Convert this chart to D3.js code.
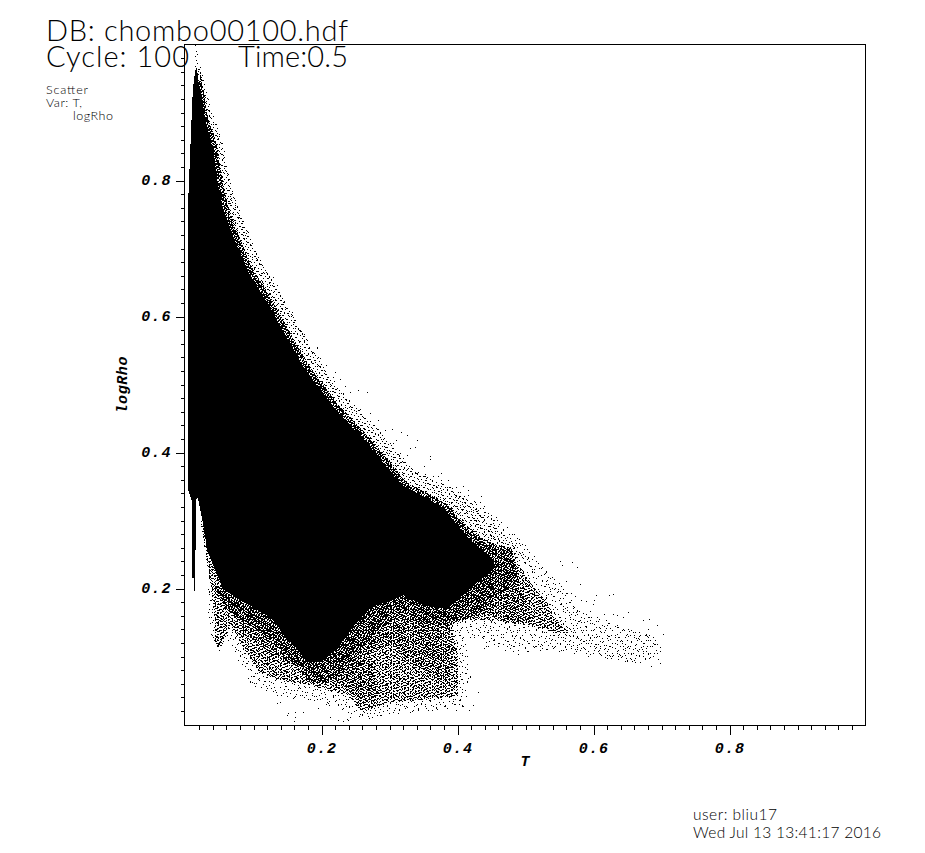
<!DOCTYPE html>
<html><head><meta charset="utf-8">
<script src="https://cdnjs.cloudflare.com/ajax/libs/d3/7.8.5/d3.min.js"></script>
<style>
html,body{margin:0;padding:0;background:#fff}
svg{display:block}
.ttl{font-family:"Lato";font-weight:300;fill:#000}
.ax{font-family:"Liberation Mono";font-weight:700;font-style:italic;font-size:15px;fill:#000}
</style></head><body>
<svg id="c" width="925" height="853"></svg>
<script>
// T and logRho outline of the region the picture shows as fully solid
const solidRegion=[[.015,.965],[.017,.965],[.019,.945],[.025,.918],[.029,.888],[.041,.844],[.047,.796],[.056,.756],[.071,.716],[.091,.668],[.121,.619],[.154,.560],[.174,.525],[.218,.466],[.268,.413],[.316,.354],[.379,.319],[.415,.275],[.449,.246],[.456,.231],[.415,.197],[.385,.170],[.350,.175],[.321,.190],[.301,.182],[.272,.172],[.243,.142],[.224,.112],[.199,.092],[.179,.092],[.159,.117],[.125,.157],[.076,.186],[.056,.198],[.044,.226],[.032,.256],[.025,.300],[.018,.334],[.015,.329],[.015,.257],[.014,.257],[.014,.196],[.012,.196],[.012,.216],[.010,.216],[.010,.257],[.009,.257],[.009,.329],[.004,.344],[.004,.771],[.007,.844],[.010,.918],[.012,.945]];
// Nested outlines of zones too dense to read point by point
const sparseRegion=[[.03,.30],[.033,.16],[.04,.115],[.05,.10],[.06,.13],[.08,.085],[.10,.055],[.14,.04],[.19,.035],[.235,.02],[.26,.005],[.30,.015],[.36,.02],[.41,.025],[.42,.07],[.41,.13],[.46,.115],[.53,.11],[.60,.10],[.66,.09],[.695,.10],[.69,.13],[.62,.15],[.58,.17],[.55,.21],[.52,.24],[.49,.275],[.43,.33],[.3,.33],[.1,.33]];
const lightRegion=[[.022,.300],[.038,.197],[.044,.150],[.044,.118],[.047,.112],[.052,.112],[.066,.146],[.091,.104],[.107,.079],[.140,.065],[.184,.057],[.238,.043],[.260,.018],[.291,.030],[.350,.037],[.400,.042],[.401,.101],[.390,.153],[.444,.153],[.482,.150],[.530,.140],[.552,.135],[.535,.175],[.510,.205],[.488,.237],[.456,.263],[.404,.300],[.360,.337],[.316,.329],[.169,.329]];
const heavyRegion=[[.060,.190],[.085,.135],[.125,.105],[.160,.085],[.200,.065],[.235,.055],[.262,.030],[.285,.045],[.270,.100],[.300,.120],[.340,.085],[.385,.060],[.395,.110],[.385,.150],[.430,.170],[.470,.150],[.510,.150],[.490,.215],[.460,.255],[.400,.300],[.200,.300]];
const darkRegion=[[.044,.20],[.06,.17],[.08,.155],[.125,.125],[.16,.09],[.18,.065],[.20,.06],[.225,.07],[.25,.10],[.272,.13],[.30,.15],[.32,.165],[.35,.15],[.385,.145],[.43,.16],[.46,.19],[.49,.21],[.48,.26],[.2,.3]];
const wingStrip=[[.46,.24],[.50,.21],[.55,.15],[.565,.135],[.54,.135],[.49,.16],[.46,.17]];
const edgeNear=[[.022,.958],[.029,.92],[.034,.89],[.047,.85],[.054,.80],[.063,.76],[.078,.72],[.098,.672],[.128,.623],[.161,.564],[.181,.529],[.225,.47],[.275,.417],[.323,.358],[.386,.323],[.422,.279],[.456,.25],[.30,.25],[.05,.30],[.012,.90]];
const edgeFar=[[.02,.975],[.032,.93],[.04,.90],[.054,.86],[.064,.81],[.074,.77],[.09,.73],[.11,.682],[.14,.633],[.173,.575],[.193,.54],[.238,.48],[.288,.43],[.337,.372],[.405,.342],[.445,.30],[.48,.265],[.51,.24],[.30,.25],[.05,.30],[.012,.90]];
// Individually readable outlying points: T, logRho
const spikePoints=[[.015,.998],[.016,.990],[.014,.983],[.016,.976],[.017,.985],[.015,.968],[.018,.972],[.014,.962],[.027,.903],[.032,.878],[.034,.869],[.041,.840],[.054,.800],[.056,.785],[.066,.766],[.071,.753],[.078,.746]];
const upperPoints=[[.067,.771],[.074,.761],[.071,.753],[.079,.746],[.084,.739],[.089,.722],[.091,.717],[.103,.695],[.111,.682],[.106,.682],[.113,.663],[.120,.662],[.130,.657],[.135,.646],[.123,.648],[.125,.633],[.138,.636],[.133,.624],[.145,.621],[.140,.614],[.157,.606],[.160,.594],[.150,.604],[.169,.580],[.175,.574],[.179,.564],[.194,.553],[.189,.545],[.191,.533],[.196,.540],[.255,.491],[.268,.488],[.284,.447],[.272,.457],[.257,.463],[.243,.488],[.235,.497],[.228,.507],[.220,.518],[.218,.511],[.208,.528],[.198,.538],[.194,.554],[.294,.433],[.304,.434],[.318,.430],[.326,.425],[.341,.418],[.311,.418],[.331,.406],[.338,.407],[.326,.396],[.360,.394],[.360,.390],[.351,.380],[.343,.371],[.338,.369],[.353,.367],[.365,.364],[.372,.365],[.377,.369],[.377,.359],[.387,.359],[.376,.350],[.392,.347],[.399,.349],[.409,.350],[.416,.344],[.416,.337],[.436,.336],[.429,.313],[.439,.308],[.446,.306],[.458,.305],[.399,.335],[.409,.320],[.424,.315],[.316,.398],[.323,.386],[.333,.376],[.306,.413],[.287,.430]];
const wingPoints=[[.569,.238],[.576,.231],[.552,.239],[.554,.234],[.581,.206],[.561,.210],[.549,.198],[.554,.192],[.560,.192],[.567,.192],[.574,.188],[.583,.182],[.590,.181],[.601,.183],[.600,.177],[.605,.189],[.624,.189],[.630,.191],[.580,.166],[.595,.166],[.616,.162],[.619,.153],[.606,.157],[.605,.152],[.629,.162],[.635,.161],[.644,.158],[.652,.165],[.673,.153],[.683,.154],[.625,.141],[.635,.145],[.646,.138],[.652,.140],[.681,.139],[.694,.145],[.703,.132],[.637,.128],[.640,.122],[.660,.131],[.664,.124],[.669,.131],[.679,.129],[.691,.124],[.674,.114],[.684,.115],[.694,.117],[.699,.113],[.699,.107],[.606,.129],[.613,.126],[.623,.129],[.596,.126],[.581,.124],[.586,.122],[.593,.119],[.603,.117],[.610,.114],[.618,.112],[.625,.114],[.632,.112],[.639,.114],[.647,.112],[.655,.114],[.662,.112],[.623,.102],[.630,.102],[.637,.100],[.647,.102],[.659,.104],[.674,.107],[.689,.104],[.637,.096],[.650,.092],[.657,.092],[.669,.091],[.677,.095],[.686,.086],[.699,.089],[.696,.096],[.576,.113],[.583,.112],[.593,.100],[.618,.099],[.603,.112],[.608,.108],[.588,.110],[.439,.112],[.446,.115],[.454,.118],[.461,.115],[.471,.109],[.478,.112],[.483,.108],[.490,.109],[.500,.112],[.515,.114],[.522,.109],[.503,.107],[.537,.119],[.544,.114],[.564,.117],[.522,.114],[.483,.115],[.489,.103],[.505,.107],[.557,.136],[.561,.131],[.566,.139],[.552,.144],[.559,.126],[.571,.141],[.581,.153],[.591,.151],[.574,.153],[.564,.161],[.571,.129],[.549,.131],[.544,.141]];
const lowerPoints=[[.152,.016],[.150,.013],[.162,.018],[.160,.004],[.174,.018],[.135,.031],[.140,.033],[.196,.023],[.213,.011],[.225,.006],[.233,.004],[.240,.006],[.243,.011],[.412,.075],[.409,.060],[.431,.047],[.424,.028],[.417,.020],[.399,.021],[.404,.104],[.409,.114],[.442,.114],[.238,.008],[.162,.011]];
const majorTicks=[.2,.4,.6,.8];
const minorTicks=[.02,.04,.06,.08,.1,.12,.14,.16,.18,.22,.24,.26,.28,.3,.32,.34,.36,.38,.42,.44,.46,.48,.5,.52,.54,.56,.58,.62,.64,.66,.68,.7,.72,.74,.76,.78,.82,.84,.86,.88,.9,.92,.94,.96,.98];
const titleLines=["DB: chombo00100.hdf","Cycle: 100","Time:0.5"];
const infoLines=["Scatter","Var: T,","logRho"];
const footerLines=["user: bliu17","Wed Jul 13 13:41:17 2016"];
// Stipple tiles standing in for unreadably dense speckle
const tiles=[
 {w:13,h:11,d:[[0,0],[1,0],[5,1],[9,1],[3,3],[7,3],[8,3],[11,4],[1,5],[5,6],[9,7],[10,7],[3,8],[7,9],[12,10]]},
 {w:17,h:7,d:[[2,0],[8,0],[14,1],[5,2],[11,2],[0,3],[16,4],[7,4],[3,5],[12,6],[13,6]]},
 {w:5,h:7,d:[[0,0],[1,0],[3,1],[0,2],[2,3],[3,3],[4,4],[1,5],[3,6]]},
 {w:11,h:3,d:[[0,0],[1,0],[5,0],[8,1],[9,1],[3,2],[6,2]]},
 {w:3,h:4,d:[[0,0],[2,1],[1,2],[0,3]]},
 {w:19,h:23,d:[[1,2],[9,0],[15,5],[4,9],[12,11],[18,14],[7,16],[0,19],[14,20],[10,6],[3,14],[16,9]]},
 {w:29,h:17,d:[[3,1],[14,0],[24,3],[8,5],[19,7],[27,9],[1,10],[12,11],[22,13],[6,14],[16,15],[10,8],[26,16],[20,2]]},
 {w:31,h:13,d:[[5,0],[18,1],[28,3],[11,4],[2,6],[23,6],[15,8],[7,10],[26,11],[19,12]]}
];

const x=d3.scaleLinear().domain([0,1]).range([185.5,865.5]);
const y=d3.scaleLinear().domain([0,1]).range([724.5,44.5]);
const svg=d3.select("#c");
const defs=svg.append("defs");
tiles.forEach((t,i)=>{
  const p=defs.append("pattern").attr("id","t"+i).attr("patternUnits","userSpaceOnUse").attr("width",t.w).attr("height",t.h);
  p.selectAll("rect").data(t.d).join("rect").attr("x",d=>d[0]).attr("y",d=>d[1]).attr("width",1).attr("height",1).attr("fill","#000").attr("shape-rendering","crispEdges");
});
const line=d3.line().x(d=>x(d[0])).y(d=>y(d[1])).curve(d3.curveLinearClosed);
const plot=svg.append("g");
function stipple(reg,ids){ids.forEach(i=>plot.append("path").attr("d",line(reg)).attr("fill",`url(#t${i})`).attr("shape-rendering","crispEdges"));}
stipple(sparseRegion,[5,6,7]);
stipple(lightRegion,[0,1,5,3]);
stipple(heavyRegion,[2,6,0,1]);
stipple(darkRegion,[3,4,7,2]);
stipple(wingStrip,[0,1,3]);
stipple(edgeFar,[0,5,6]);
stipple(edgeNear,[1,2,3,4]);
plot.append("path").attr("d",line(solidRegion)).attr("fill","#000").attr("shape-rendering","crispEdges");
plot.selectAll("rect.p").data([...spikePoints,...upperPoints,...wingPoints,...lowerPoints]).join("rect").attr("class","p")
  .attr("x",d=>Math.floor(x(d[0]))).attr("y",d=>Math.floor(y(d[1]))).attr("width",1).attr("height",1).attr("fill","#000").attr("shape-rendering","crispEdges");

// frame
svg.append("rect").attr("x",x.range()[0]-1).attr("y",y.range()[1]).attr("width",x.range()[1]-x.range()[0]+1).attr("height",y.range()[0]-y.range()[1]+1)
  .attr("fill","none").attr("stroke","#000").attr("shape-rendering","crispEdges");
// axes
function axis(gen,scale,tr,vals,size,lab){
  const g=svg.append("g").attr("transform",tr).call(gen(scale).tickValues(vals).tickSize(size).tickSizeOuter(0).tickPadding(6).tickFormat(lab?d3.format(".1f"):""));
  g.select(".domain").remove();
  g.selectAll("line").attr("stroke","#000").attr("shape-rendering","crispEdges");
  g.selectAll("text").attr("class","ax").attr("font-family",null).attr("font-size",null).attr("letter-spacing","1.2");
  return g;
}
axis(d3.axisBottom,x,"translate(0,725.5)",minorTicks,4,false);
axis(d3.axisLeft,y,"translate(184.5,0)",minorTicks,4,false);
axis(d3.axisBottom,x,"translate(0,725.5)",majorTicks,9,true).selectAll("text").attr("dy","0.85em");
axis(d3.axisLeft,y,"translate(184.5,0)",majorTicks,9,true).selectAll("text").attr("dx","0.15em").attr("dy","0.26em");
svg.append("text").attr("class","ax").attr("x",525).attr("y",766).attr("text-anchor","middle").text("T");
svg.append("text").attr("class","ax").attr("transform","translate(127,385) rotate(-90)").attr("text-anchor","middle").attr("textLength",57).text("logRho");

// texts
const T=(s,xp,yp,fs,len)=>{const t=svg.append("text").attr("class","ttl").attr("x",xp).attr("y",yp).attr("font-size",fs).text(s);if(len)t.attr("textLength",len);};
T(titleLines[0],46,41,29,302);
T(titleLines[1],46,67,29,143);
T(titleLines[2],238,67,29,110);
T(infoLines[0],46,94,12.5,42);
T(infoLines[1],46,107,12.5,36);
T(infoLines[2],73,120,12.5,40);
T(footerLines[0],693,820,15.5,84);
T(footerLines[1],693,838,15.5,188);
</script></body></html>
